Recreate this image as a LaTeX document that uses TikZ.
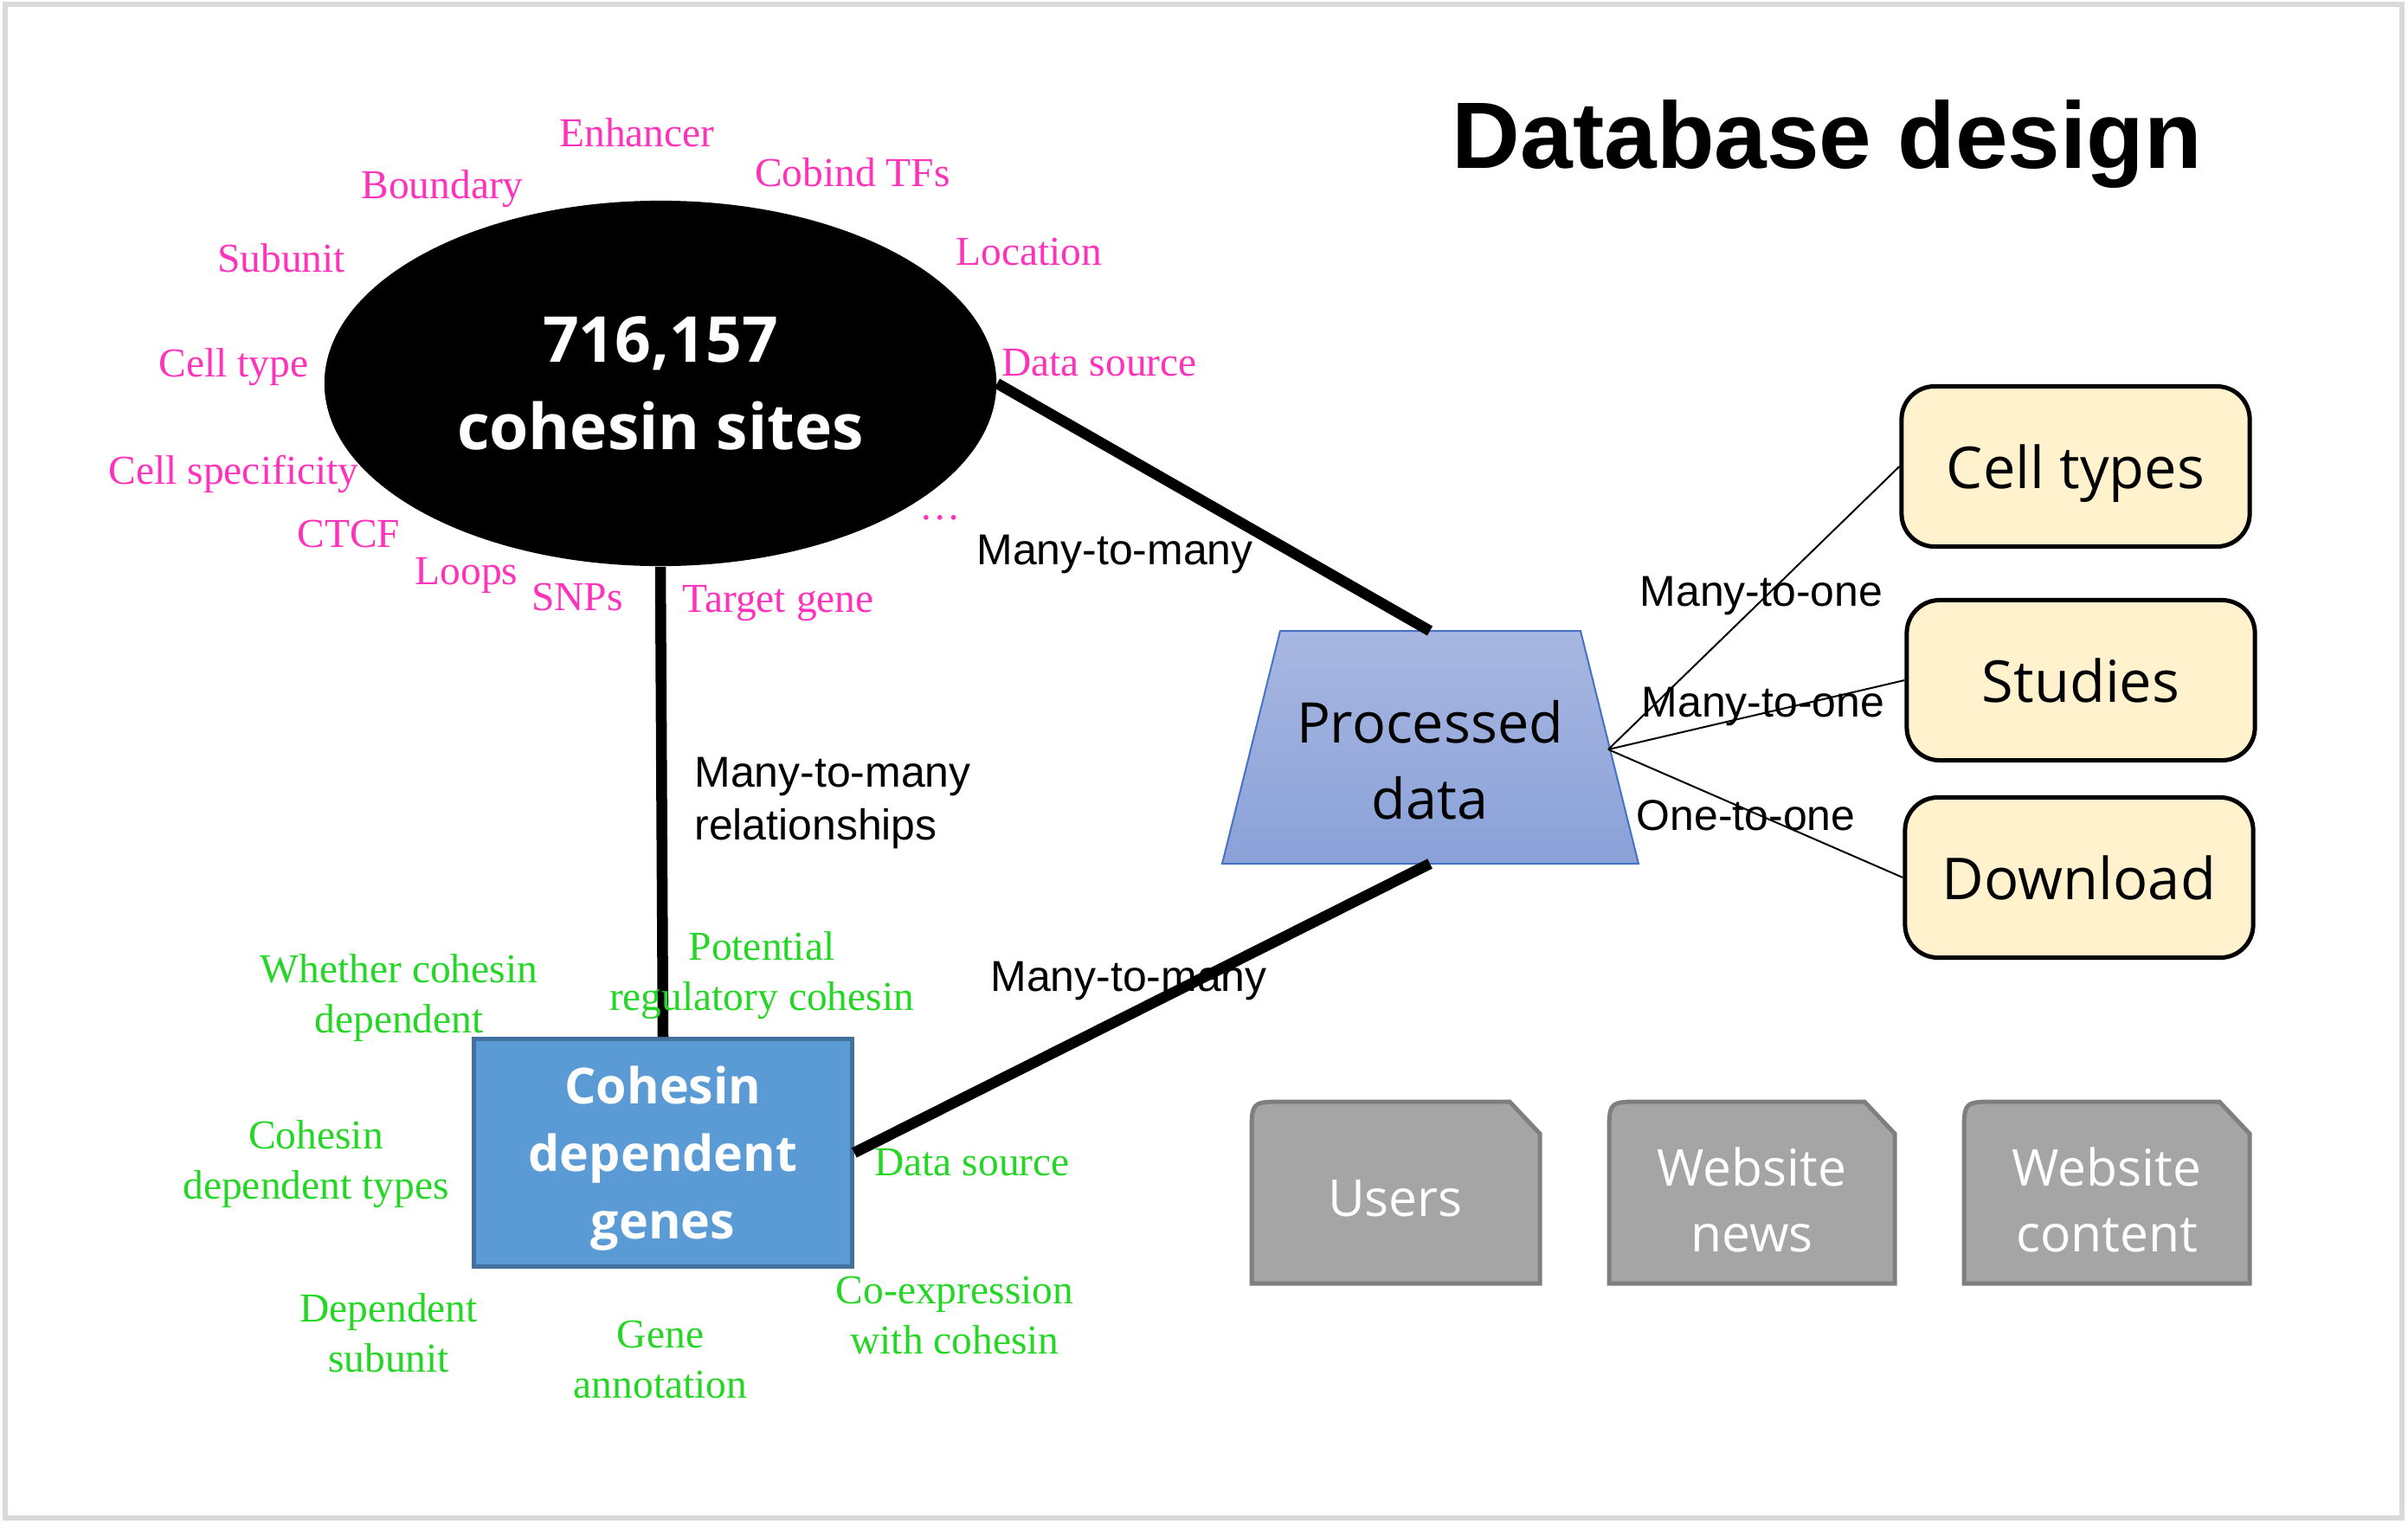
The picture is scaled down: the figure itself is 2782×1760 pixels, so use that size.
\documentclass[tikz,border=0pt]{standalone}
\usepackage{fontspec}
\setmainfont{Liberation Serif}
\newfontfamily\arialfont{Liberation Sans}
\newfontfamily\uifont{Open Sans}
\usetikzlibrary{shapes.geometric}

\definecolor{sitepink}{HTML}{FF33BB}
\definecolor{genegreen}{HTML}{26D626}
\definecolor{proctop}{HTML}{A8B7E1}
\definecolor{procbottom}{HTML}{8AA1D8}
\definecolor{procline}{HTML}{4472C4}
\definecolor{tablefill}{HTML}{FFF2CC}
\definecolor{genesfill}{HTML}{5B9BD5}
\definecolor{genesline}{HTML}{41719C}
\definecolor{folderfill}{HTML}{A5A5A5}
\definecolor{foldline}{HTML}{7F7F7F}

\begin{document}
\begin{tikzpicture}[x = 0.01cm, y = -0.01cm,
		pinklbl/.style = {text = sitepink, text depth = 0pt, font = \fontsize{13.5}{16.5}\selectfont},
		greenlbl/.style = {text = genegreen, align = center, font = \fontsize{13.5}{16.5}\selectfont},
		rellbl/.style = {text depth = 0pt, font = \arialfont\fontsize{14.2}{17.4}\selectfont},
		biglink/.style = {line width = 0.125cm},
		thinlink/.style = {line width = 0.02cm},
		tablebox/.style = {draw, line width = 0.05cm, rounded corners = 0.38cm, fill = tablefill, minimum width = 4.02cm, minimum height = 1.85cm, text depth = 0pt, font = \uifont\fontsize{19}{23}\selectfont},
		folder/.style = {draw = foldline, fill = folderfill, line width = 0.05cm},
		foldtext/.style = {text = white, align = center, font = \uifont\fontsize{16.7}{21.6}\selectfont}]
	\useasboundingbox (0, 0) rectangle (2782, 1760);
	\draw [black!15, line width = 0.06cm] (6, 5) rectangle (2775, 1754);

	\node [font = \arialfont\bfseries\fontsize{31}{37}\selectfont] (title) at (2111, 167) {Database design};

	\node [ellipse, fill = black, inner sep = 0, minimum width = 7.76cm, minimum height = 4.22cm, text = white, align = center, font = \uifont\bfseries\fontsize{20.8}{28.7}\selectfont] (sites) at (763, 443) {716,157\\cohesin sites};

	% processed data: a shaded trapezoid with its text node
	\draw [draw = procline, line width = 0.02cm, top color = proctop, bottom color = procbottom] (1479, 729) -- (1826, 729) -- (1893, 998) -- (1412, 998) -- cycle;
	\coordinate (proctop) at (1652, 729);
	\coordinate (procbot) at (1652, 998);
	\coordinate (procfan) at (1858, 866);
	\node [align = center, font = \uifont\fontsize{18.4}{25}\selectfont] (proc) at (1652, 878) {Processed\\data};

	\node [draw = genesline, fill = genesfill, line width = 0.045cm, minimum width = 4.37cm, minimum height = 2.63cm, text depth = 0pt, text = white, align = center, font = \uifont\bfseries\fontsize{16.3}{22.2}\selectfont] (genes) at (766, 1332) {Cohesin\\dependent\\genes};

	\node [tablebox] (celltypes) at (2398, 539) {Cell types};
	\node [tablebox] (studies) at (2404, 786) {Studies};
	\node [tablebox] (download) at (2402, 1014) {Download};

	\draw [biglink] (sites.east) to (proctop);
	\draw [biglink] (sites.south) to (genes.north);
	\draw [biglink] (genes.east) to (procbot);
	\draw [thinlink] (procfan) to (celltypes.west);
	\draw [thinlink] (procfan) to (studies.west);
	\draw [thinlink] (procfan) to (download.west);

	\node [rellbl] (mm1) at (1288, 635) {Many-to-many};
	\node [rellbl, align = left, anchor = west] (mm2) at (790, 923) {Many-to-many\\relationships};
	\node [rellbl] (mm3) at (1304, 1128) {Many-to-many};
	\node [rellbl] (mo1) at (2035, 683) {Many-to-one};
	\node [rellbl] (mo2) at (2037, 811) {Many-to-one};
	\node [rellbl] (oo) at (2017, 942) {One-to-one};

	% attributes of the cohesin sites
	\node [pinklbl] (enhancer) at (736, 153) {Enhancer};
	\node [pinklbl] (boundary) at (511, 213) {Boundary};
	\node [pinklbl] (cobind) at (985, 199) {Cobind TFs};
	\node [pinklbl] (subunit) at (325, 298) {Subunit};
	\node [pinklbl] (location) at (1189, 291) {Location};
	\node [pinklbl] (celltype) at (270, 419) {Cell type};
	\node [pinklbl] (ssource) at (1270, 419) {Data source};
	\node [pinklbl] (specific) at (270, 543) {Cell specificity};
	\node [pinklbl] (ctcf) at (403, 617) {CTCF};
	\node [pinklbl] (loops) at (539, 660) {Loops};
	\node [pinklbl] (snps) at (667, 690) {SNPs};
	\node [pinklbl] (target) at (899, 692) {Target gene};
	\node [pinklbl] (more) at (1086, 598) {\ldots};

	% attributes of the dependent genes
	\node [greenlbl] (whether) at (461, 1153) {Whether cohesin\\dependent};
	\node [greenlbl] (potential) at (880, 1127) {Potential\\regulatory cohesin};
	\node [greenlbl] (deptypes) at (365, 1345) {Cohesin\\dependent types};
	\node [greenlbl] (gsource) at (1123, 1343) {Data source};
	\node [greenlbl] (depsub) at (449, 1540) {Dependent\\subunit};
	\node [greenlbl] (annot) at (763, 1571) {Gene\\annotation};
	\node [greenlbl] (coexp) at (1103, 1520) {Co-expression\\with cohesin};

	\draw [folder] (1446, 1483) -- (1446, 1311) .. controls (1446, 1273) .. (1484, 1273) -- (1744, 1273) -- (1779, 1310) -- (1779, 1483) -- cycle;
	\draw [folder] (1859, 1483) -- (1859, 1311) .. controls (1859, 1273) .. (1897, 1273) -- (2154, 1273) -- (2189, 1310) -- (2189, 1483) -- cycle;
	\draw [folder] (2269, 1483) -- (2269, 1311) .. controls (2269, 1273) .. (2307, 1273) -- (2564, 1273) -- (2599, 1310) -- (2599, 1483) -- cycle;
	\node [foldtext] (users) at (1612, 1385) {Users};
	\node [foldtext] (news) at (2024, 1386) {Website\\news};
	\node [foldtext] (content) at (2434, 1386) {Website\\content};
\end{tikzpicture}
\end{document}
